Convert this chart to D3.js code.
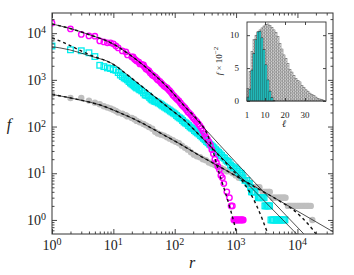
<!DOCTYPE html>
<html>
<head>
<meta charset="utf-8">
<script src="https://cdn.jsdelivr.net/npm/d3@7"></script>
<style>
  body { margin: 0; background: #fff; }
  text { font-family: "Liberation Serif", "DejaVu Serif", serif; fill: #222; }
</style>
</head>
<body>
<svg id="chart" width="354" height="275"></svg>
<script>
// rank / frequency, magenta circles
var magentaRank = [1,2,3,4,5,6,7,8,9,10,11,12,14,16,17,20,21,22,23,24,26,27,29,31,32,34,36,38,40,43,45,48,51,53,57,60,63,67,71,75,79,83,88,93,98,104,110,117,124,131,139,147,155,164,174,184,195,206,218,230,244,258,273,288,305,322,341,361,382,403,427,451,478,505,535,565,598,632,707,780,830,870,920,950,980,1010,1040,1070,1100,1140,1170,1210,1240,1280,1310];
var magentaFreq = [16500,12300,9400,8700,8600,6800,6500,6200,6200,5900,5320,4820,4160,3960,3410,3090,3100,2800,2650,2540,2400,2190,2150,2080,1900,1710,1640,1550,1400,1270,1230,1150,1060,995,930,859,800,740,700,671,620,578,530,475,445,409,380,353,320,290,270,250,228,205,192,177,160,146,135,125,114,103,92,80,70,60,54,47,40,32,26,20,17,14,12,9,8,6,4,3,2,2,1,1,1,1,1,1,1,1,1,1,1,1,1];

// cyan squares
var cyanRank = [1,2,3,4,5,6,7,8,9,10,11,12,13,14,15,16,17,18,19,20,21,22,23,24,26,27,29,31,33,35,37,39,41,43,46,48,51,54,58,61,64,68,72,76,81,85,90,95,101,107,113,120,127,134,142,150,159,168,178,188,199,210,222,235,249,264,279,295,312,330,349,370,391,413,437,463,490,518,548,580,613,648,686,726,768,813,859,910,962,1020,1076,1140,1204,1250,1300,1400,1500,1580,1650,1720,1780,1840,1900,1970,2040,2300,2400,2500,2620,2740,2860,2950,3080,3220,3370,3520,3700,3880,4070,4270,4480,4700,4930,5170,5420,5680,5960,6250];
var cyanFreq = [5300,4400,4200,3800,3150,2050,1920,1800,1750,1650,1600,1430,1270,1180,1100,1050,995,920,859,815,778,740,705,670,638,610,578,525,475,465,452,420,390,370,353,345,336,320,305,290,276,262,250,238,227,215,205,195,186,172,161,153,146,135,125,119,114,105,98,93,89,82,77,73,69,64,60,56,52,48,45,42,40,37,35,32,30,28,26,24,22,21,19,18,17,15,14,13,13,12,11,10,10,9,8,7,7,6,6,5,4,4,4,4,4,3,3,3,3,3,3,2,2,2,2,2,1,1,1,1,1,1,1,1,1,1,1,1];

// grey filled circles
var grayRank = [1,2,3,4,5,6,7,8,9,10,11,12,14,16,17,20,22,24,27,31,34,38,43,48,53,60,67,75,83,93,104,117,131,147,164,184,206,230,258,288,322,361,403,451,505,565,632,707,791,885,990,1108,1240,1387,1500,1620,1700,1800,1900,2020,2150,2270,2400,2700,2850,3000,3150,3300,3450,3550,3950,4150,4400,4650,4900,5150,5400,5650,5900,6150,6400,7000,7350,7700,8100,8500,8950,9400,9900,10400,10900,11500,12100,12700,13300,14000,14700,15400,16500,17500];
var grayFreq = [490,410,410,359,325,300,272,255,244,229,215,200,188,175,165,153,143,132,123,114,106,98,90,77,71,67,64,59,55,51,47,44,39,35,32,28,25,23,22,20,19,17,16,15,14,13,12,11,11,10,9,8,8,7,6,6,5,5,5,5,5,5,5,4,4,4,4,4,4,4,3,3,3,3,3,3,3,3,3,3,3,2,2,2,2,2,2,2,2,2,2,2,2,2,2,2,2,2,2,1];

// fitted curves, [r, f]
var magentaSolid = [[1,15700],[1.97,12600],[4.17,9150],[9.89,5870],[18.7,3410],[39.7,1550],[84.1,608],[148,263],[23500,0.217]];
var magentaDashed = [[1,15700],[1.97,12600],[4.17,9150],[9.89,5870],[18.7,3410],[39.7,1550],[84.1,608],[148,263],[260,119],[338,69.5],[407,34.8],[511,11.8],[664,3.98],[831,1.48],[1042,0.477]];
var cyanSolid = [[1,5140],[1.97,4370],[4.17,3250],[9.89,2190],[18.7,1153],[39.7,524],[84.1,238],[148,132],[260,62.9],[16200,0.251]];
var cyanDashed = [[1,7890],[1.46,6480],[2.37,4820],[4.17,3410],[9.89,2150],[18.7,1153],[39.7,524],[84.1,238],[148,132],[260,62.9],[456,29.5],[801,13.2],[1259,6.84],[1698,3.79],[2210,1.90],[2670,1.05],[3340,0.477]];
var graySolid = [[1,487],[2.86,371],[6.07,290],[12.9,196],[27.3,125],[57.8,72.9],[122,42.4],[260,23.5],[550,13.6],[49900,0.454]];
var grayDashed = [[1,487],[2.86,371],[6.07,290],[12.9,196],[27.3,125],[57.8,72.9],[122,42.4],[260,23.5],[550,13.6],[2472,4.39],[5240,2.49],[8230,1.72],[12000,1.10],[17400,0.642],[21800,0.433]];

// inset histogram, f x 10^-2 per length l
var ellValues = [1,2,3,4,5,6,7,8,9,10,11,12,13,14,15,16,17,18,19,20,21,22,23,24,25,26,27,28,29,30,31,32,33,34,35,36,37,38,39];
var grayHist = [1.9,4.5,7.5,9.3,10.0,10.5,10.8,11.1,11.4,11.6,11.7,11.5,11.2,10.8,10.4,9.8,8.7,7.9,7.0,6.5,5.7,4.8,4.4,3.9,3.4,3.1,2.9,2.4,2.1,1.7,1.5,1.2,1.0,0.8,0.6,0.4,0.3,0.2,0.1];
var cyanHist = [0.6,1.8,4.7,7.2,9.3,10.5,10.6,9.6,7.8,5.5,3.2,1.5,0.5,0.1];

var mainXTicks = [1,10,100,1000,10000];
var mainYTicks = [1,10,100,1000,10000];
var insetXTicks = [1,10,20,30];
var insetYTicks = [0,5,10];

var svg = d3.select("#chart");
var plot = {left: 52, right: 333, top: 13, bottom: 234};

var x = d3.scaleLog().domain([1, 38000]).range([plot.left, plot.right]);
var y = d3.scaleLog().domain([0.5, 27000]).range([plot.bottom, plot.top]);

svg.append("clipPath").attr("id", "clip")
  .append("rect")
  .attr("x", plot.left).attr("y", plot.top)
  .attr("width", plot.right - plot.left).attr("height", plot.bottom - plot.top);

var gData = svg.append("g").attr("clip-path", "url(#clip)");

function zipped(rs, fs) {
  var n = Math.min(rs.length, fs.length);
  return d3.range(n).map(function(i) { return [rs[i], fs[i]]; });
}

// grey
gData.selectAll(".gray").data(zipped(grayRank, grayFreq)).enter()
  .append("circle")
  .attr("cx", function(d) { return x(d[0]); })
  .attr("cy", function(d) { return y(d[1]); })
  .attr("r", 3.2)
  .attr("fill", "#bfbfbf");

// cyan
var sq = 5.6;
gData.selectAll(".cyan").data(zipped(cyanRank, cyanFreq)).enter()
  .append("rect")
  .attr("x", function(d) { return x(d[0]) - sq / 2; })
  .attr("y", function(d) { return y(d[1]) - sq / 2; })
  .attr("width", sq).attr("height", sq)
  .attr("fill", "none")
  .attr("stroke", "#00eeee")
  .attr("stroke-width", 1.3);

// magenta
gData.selectAll(".mag").data(zipped(magentaRank, magentaFreq)).enter()
  .append("circle")
  .attr("cx", function(d) { return x(d[0]); })
  .attr("cy", function(d) { return y(d[1]); })
  .attr("r", 2.7)
  .attr("fill", "none")
  .attr("stroke", "#ff00ff")
  .attr("stroke-width", 1.4);

var line = d3.line()
  .x(function(d) { return x(d[0]); })
  .y(function(d) { return y(d[1]); })
  .curve(d3.curveMonotoneX);

[magentaSolid, cyanSolid, graySolid].forEach(function(s) {
  gData.append("path").attr("d", line(s))
    .attr("fill", "none").attr("stroke", "#222").attr("stroke-width", 0.8);
});
[magentaDashed, cyanDashed, grayDashed].forEach(function(s) {
  gData.append("path").attr("d", line(s))
    .attr("fill", "none").attr("stroke", "#111").attr("stroke-width", 1.4)
    .attr("stroke-dasharray", "3,3");
});

// minor ticks for log axes
function minorTicks(lo, hi) {
  var out = [];
  for (var e = Math.floor(Math.log10(lo)); e <= Math.ceil(Math.log10(hi)); e++) {
    for (var m = 2; m <= 9; m++) {
      var v = m * Math.pow(10, e);
      if (v > lo && v < hi) out.push(v);
    }
  }
  return out;
}
var xMinor = minorTicks(1, 38000);
var yMinor = minorTicks(0.5, 27000);

var axisColor = "#333";
function styleAxis(g) {
  g.select(".domain").remove();
  g.selectAll("line").attr("stroke", axisColor).attr("stroke-width", 0.9);
  g.selectAll("text").remove();
}

svg.append("g").attr("transform", "translate(0," + plot.bottom + ")")
  .call(d3.axisBottom(x).tickValues(mainXTicks).tickSize(-5).tickSizeOuter(0)).call(styleAxis);
svg.append("g").attr("transform", "translate(0," + plot.bottom + ")")
  .call(d3.axisBottom(x).tickValues(xMinor).tickSize(-2.5).tickSizeOuter(0)).call(styleAxis);
svg.append("g").attr("transform", "translate(0," + plot.top + ")")
  .call(d3.axisTop(x).tickValues(mainXTicks).tickSize(-5).tickSizeOuter(0)).call(styleAxis);
svg.append("g").attr("transform", "translate(0," + plot.top + ")")
  .call(d3.axisTop(x).tickValues(xMinor).tickSize(-2.5).tickSizeOuter(0)).call(styleAxis);
svg.append("g").attr("transform", "translate(" + plot.left + ",0)")
  .call(d3.axisLeft(y).tickValues(mainYTicks).tickSize(-5).tickSizeOuter(0)).call(styleAxis);
svg.append("g").attr("transform", "translate(" + plot.left + ",0)")
  .call(d3.axisLeft(y).tickValues(yMinor).tickSize(-2.5).tickSizeOuter(0)).call(styleAxis);
svg.append("g").attr("transform", "translate(" + plot.right + ",0)")
  .call(d3.axisRight(y).tickValues(mainYTicks).tickSize(-5).tickSizeOuter(0)).call(styleAxis);
svg.append("g").attr("transform", "translate(" + plot.right + ",0)")
  .call(d3.axisRight(y).tickValues(yMinor).tickSize(-2.5).tickSizeOuter(0)).call(styleAxis);

svg.append("rect")
  .attr("x", plot.left).attr("y", plot.top)
  .attr("width", plot.right - plot.left).attr("height", plot.bottom - plot.top)
  .attr("fill", "none").attr("stroke", axisColor).attr("stroke-width", 1);

function powLabel(sel, v) {
  sel.append("tspan").text("10");
  sel.append("tspan").attr("dy", -5).attr("font-size", 10).text(Math.round(Math.log10(v)));
}

mainXTicks.forEach(function(v) {
  svg.append("text").attr("x", x(v)).attr("y", 250)
    .attr("text-anchor", "middle").attr("font-size", 14)
    .call(powLabel, v);
});
mainYTicks.forEach(function(v) {
  svg.append("text").attr("x", 46).attr("y", y(v) + 5)
    .attr("text-anchor", "end").attr("font-size", 14)
    .call(powLabel, v);
});

svg.append("text").attr("x", 9).attr("y", 130).attr("text-anchor", "middle")
  .attr("font-size", 16).attr("font-style", "italic").text("f");
svg.append("text").attr("x", 192).attr("y", 268).attr("text-anchor", "middle")
  .attr("font-size", 16).attr("font-style", "italic").text("r");

// ---- inset ----
var inset = {left: 247, right: 326, top: 22, bottom: 101};
var ix = d3.scaleLinear().domain([1, 40.5]).range([inset.left, inset.right]);
var iy = d3.scaleLinear().domain([0, 12]).range([inset.bottom, inset.top]);

var defs = svg.append("defs");
var pat = defs.append("pattern").attr("id", "hatch")
  .attr("patternUnits", "userSpaceOnUse").attr("width", 3).attr("height", 3);
pat.append("rect").attr("width", 3).attr("height", 3).attr("fill", "#f0f0f0");
pat.append("path").attr("d", "M0,3 L3,0 M0,0 L3,3").attr("stroke", "#ababab").attr("stroke-width", 0.5);

svg.append("rect")
  .attr("x", inset.left).attr("y", inset.top)
  .attr("width", inset.right - inset.left).attr("height", inset.bottom - inset.top)
  .attr("fill", "#fff");

var gi = svg.append("g");
gi.selectAll(".gbar").data(zipped(ellValues, grayHist)).enter()
  .append("rect")
  .attr("x", function(d) { return ix(d[0]); })
  .attr("y", function(d) { return iy(d[1]); })
  .attr("width", function(d) { return ix(d[0] + 1) - ix(d[0]); })
  .attr("height", function(d) { return iy(0) - iy(d[1]); })
  .attr("fill", "url(#hatch)")
  .attr("stroke", "#3a3a3a").attr("stroke-width", 0.4);
gi.selectAll(".cbar").data(zipped(ellValues, cyanHist)).enter()
  .append("rect")
  .attr("x", function(d) { return ix(d[0]); })
  .attr("y", function(d) { return iy(d[1]); })
  .attr("width", function(d) { return ix(d[0] + 1) - ix(d[0]); })
  .attr("height", function(d) { return iy(0) - iy(d[1]); })
  .attr("fill", "#22e8e8")
  .attr("stroke", "#222").attr("stroke-width", 0.5);

svg.append("g").attr("transform", "translate(0," + inset.bottom + ")")
  .call(d3.axisBottom(ix).tickValues([10, 20, 30]).tickSize(-3).tickSizeOuter(0)).call(styleAxis);
svg.append("g").attr("transform", "translate(0," + inset.top + ")")
  .call(d3.axisTop(ix).tickValues([10, 20, 30]).tickSize(-3).tickSizeOuter(0)).call(styleAxis);
svg.append("g").attr("transform", "translate(" + inset.left + ",0)")
  .call(d3.axisLeft(iy).tickValues(insetYTicks).tickSize(-3).tickSizeOuter(0)).call(styleAxis);
svg.append("g").attr("transform", "translate(" + inset.right + ",0)")
  .call(d3.axisRight(iy).tickValues(insetYTicks).tickSize(-3).tickSizeOuter(0)).call(styleAxis);

svg.append("rect")
  .attr("x", inset.left).attr("y", inset.top)
  .attr("width", inset.right - inset.left).attr("height", inset.bottom - inset.top)
  .attr("fill", "none").attr("stroke", axisColor).attr("stroke-width", 0.9);

insetXTicks.forEach(function(v) {
  svg.append("text").attr("x", ix(v)).attr("y", 117.5)
    .attr("text-anchor", "middle").attr("font-size", 9).text(v);
});
insetYTicks.forEach(function(v) {
  svg.append("text").attr("x", 239).attr("y", iy(v) + 3)
    .attr("text-anchor", "end").attr("font-size", 9).text(v);
});
svg.append("text").attr("x", 284).attr("y", 127).attr("text-anchor", "middle")
  .attr("font-size", 10).attr("font-style", "italic").text("\u2113");

var yl = svg.append("text")
  .attr("transform", "translate(222,61) rotate(-90)")
  .attr("text-anchor", "middle").attr("font-size", 9);
yl.append("tspan").attr("font-style", "italic").text("f");
yl.append("tspan").text(" \u00d7 10");
yl.append("tspan").attr("dy", -4).attr("font-size", 7).text("\u22122");
</script>
</body>
</html>
